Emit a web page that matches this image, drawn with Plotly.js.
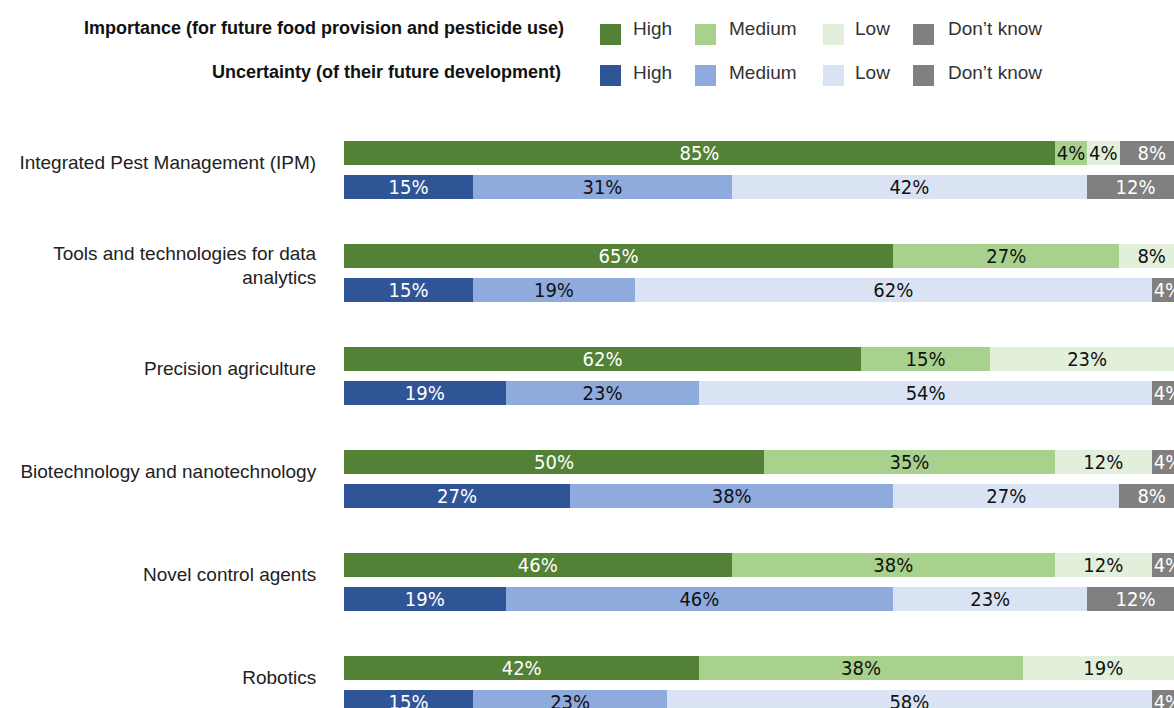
<!DOCTYPE html>
<html>
<head>
<meta charset="utf-8">
<script src="https://cdn.plot.ly/plotly-3.0.1.min.js"></script>
<style>html,body{margin:0;padding:0;background:#fff;}#chart{width:1174px;height:708px;}</style>
</head>
<body>
<div id="chart"></div>
<script>
// Categories (top to bottom)
const categories = [
  "Integrated Pest Management (IPM)",
  "Tools and technologies for data<br>analytics",
  "Precision agriculture",
  "Biotechnology and nanotechnology",
  "Novel control agents",
  "Robotics"
];
const levels = ["High", "Medium", "Low", "Don\u2019t know"];
const groupTitles = [
  "Importance (for future food provision and pesticide use)",
  "Uncertainty (of their future development)"
];

// Importance shares (%), per category
const impHigh   = [84.62, 65.38, 61.54, 50.00, 46.15, 42.31];
const impMedium = [3.85, 26.92, 15.38, 34.62, 38.46, 38.46];
const impLow    = [3.85, 7.69, 23.08, 11.54, 11.54, 19.23];
const impDK     = [7.69, 0, 0, 3.85, 3.85, 0];

// Uncertainty shares (%), per category
const uncHigh   = [15.38, 15.38, 19.23, 26.92, 19.23, 15.38];
const uncMedium = [30.77, 19.23, 23.08, 38.46, 46.15, 23.08];
const uncLow    = [42.31, 61.54, 53.85, 26.92, 23.08, 57.69];
const uncDK     = [11.54, 3.85, 3.85, 7.69, 11.54, 3.85];

const impColors = ["#538135", "#A9D18E", "#E2EFDA", "#808080"];
const uncColors = ["#2F5597", "#8FAADC", "#DAE3F3", "#808080"];
const textColors = ["#ffffff", "#111111", "#111111", "#ffffff"];

const pctFont = "'Liberation Sans Narrow', 'DejaVu Sans Condensed', 'Liberation Sans', sans-serif";
const labFont = "'Liberation Sans', Arial, sans-serif";

const W = 1174, H = 708, ML = 344, MT = 110;
const PW = W - ML, PH = H - MT;
const OFF = 0.165, BW = 0.233;
const idx = categories.map((c, i) => i);

function mk(vals, level, color, tcolor, off) {
  return {
    type: "bar", orientation: "h",
    x: vals,
    y: idx.map(i => i + off),
    width: BW,
    name: level,
    showlegend: false,
    marker: {color: color, line: {width: 0}},
    text: vals.map(v => v > 0 ? Math.round(v) + "%" : ""),
    textposition: "inside",
    insidetextanchor: "middle",
    constraintext: "none",
    textfont: {family: pctFont, size: 20, color: tcolor},
    hoverinfo: "skip"
  };
}

const impSeries = [impHigh, impMedium, impLow, impDK];
const uncSeries = [uncHigh, uncMedium, uncLow, uncDK];
const traces = [];
impSeries.forEach((s, k) => traces.push(mk(s, levels[k], impColors[k], textColors[k], -OFF)));
uncSeries.forEach((s, k) => traces.push(mk(s, levels[k], uncColors[k], textColors[k], OFF)));

// Manual legend (pixel layout converted to paper coordinates)
const px = x => (x - ML) / PW;
const py = y => 1 - (y - MT) / PH;
const swX = [600, 695, 823, 913];
const txX = [631, 727, 853, 946];
const rowTextY = [28, 72];
const rowSwTop = [24, 65];
const titleRight = [566, 563];
const shapes = [], annotations = [];
[impColors, uncColors].forEach((cols, r) => {
  annotations.push({
    xref: "paper", yref: "paper", x: px(titleRight[r]), y: py(rowTextY[r]),
    xanchor: "right", yanchor: "middle", showarrow: false,
    text: "<b>" + groupTitles[r] + "</b>",
    font: {family: labFont, size: 18, color: "#111"}
  });
  cols.forEach((c, k) => {
    shapes.push({
      type: "rect", xref: "paper", yref: "paper",
      x0: px(swX[k]), x1: px(swX[k] + 21), y0: py(rowSwTop[r]), y1: py(rowSwTop[r] + 21),
      fillcolor: c, line: {width: 0}, layer: "above"
    });
    annotations.push({
      xref: "paper", yref: "paper", x: px(txX[k]), y: py(rowTextY[r]),
      xanchor: "left", yanchor: "middle", showarrow: false,
      text: levels[k],
      font: {family: labFont, size: 19, color: "#333"}
    });
  });
});

const layout = {
  width: W, height: H,
  margin: {l: ML, r: 0, t: MT, b: 0, pad: 0, autoexpand: false},
  paper_bgcolor: "#ffffff", plot_bgcolor: "#ffffff",
  barmode: "stack",
  showlegend: false,
  xaxis: {range: [0, 98.8], visible: false, fixedrange: true},
  yaxis: {
    range: [5.223, -0.583],
    tickmode: "array",
    tickvals: idx.map(i => i - 0.075),
    ticktext: categories,
    ticks: "outside", ticklen: 23, tickcolor: "rgba(0,0,0,0)",
    showgrid: false, zeroline: false, showline: false,
    tickfont: {family: labFont, size: 19, color: "#222"},
    fixedrange: true
  },
  shapes: shapes,
  annotations: annotations
};

Plotly.newPlot("chart", traces, layout, {displayModeBar: false, staticPlot: true});
</script>
</body>
</html>
